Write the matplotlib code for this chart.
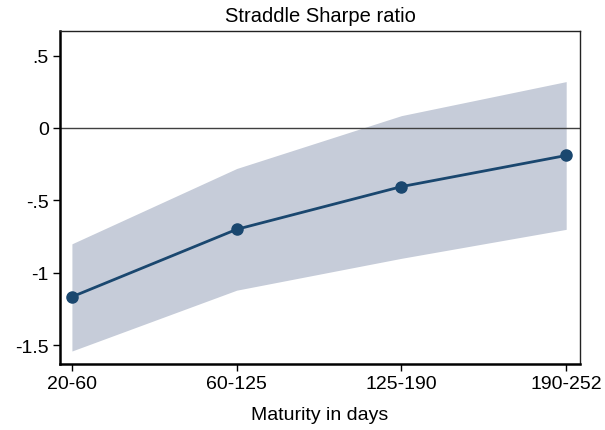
import matplotlib
matplotlib.use("Agg")
import matplotlib.pyplot as plt

plt.rcParams['font.family'] = ['Liberation Sans', 'DejaVu Sans']

categories = ["20-60", "60-125", "125-190", "190-252"]
sharpe = [-1.166, -0.70, -0.405, -0.19]
ci_upper = [-0.80, -0.28, 0.085, 0.32]
ci_lower = [-1.54, -1.12, -0.90, -0.70]
yticks = [0.5, 0, -0.5, -1, -1.5]
yticklabels = [".5", "0", "-.5", "-1", "-1.5"]

fig = plt.figure(figsize=(6.05, 4.31), dpi=100)
ax = fig.add_axes([0.099, 0.153, 0.86, 0.773])
x = list(range(len(categories)))
ax.fill_between(x, ci_lower, ci_upper, color="#c6ccd9", linewidth=0, zorder=1)
ax.axhline(0, color="#404040", linewidth=1.0, zorder=2)
ax.plot(x, sharpe, color="#1a476f", linewidth=2, marker="o", markersize=8, zorder=3)

ax.set_xlim(-0.073, 3.085)
ax.set_ylim(-1.63, 0.67)
ax.set_xticks(x)
ax.set_xticklabels(categories, fontsize=14)
ax.set_yticks(yticks)
ax.set_yticklabels(yticklabels, fontsize=14)
ax.tick_params(axis='both', direction='out', length=5, width=1, color='black', pad=3)
for s in ax.spines.values():
    s.set_linewidth(1.0)
    s.set_color("#222222")
ax.spines['left'].set_linewidth(1.8)
ax.spines['left'].set_color('black')
ax.spines['bottom'].set_linewidth(1.8)
ax.spines['bottom'].set_color('black')
ax.set_title("Straddle Sharpe ratio", fontsize=14.5, pad=7)
ax.set_xlabel("Maturity in days", fontsize=14, labelpad=10)
fig.savefig("out.png", dpi=100, facecolor="white")
